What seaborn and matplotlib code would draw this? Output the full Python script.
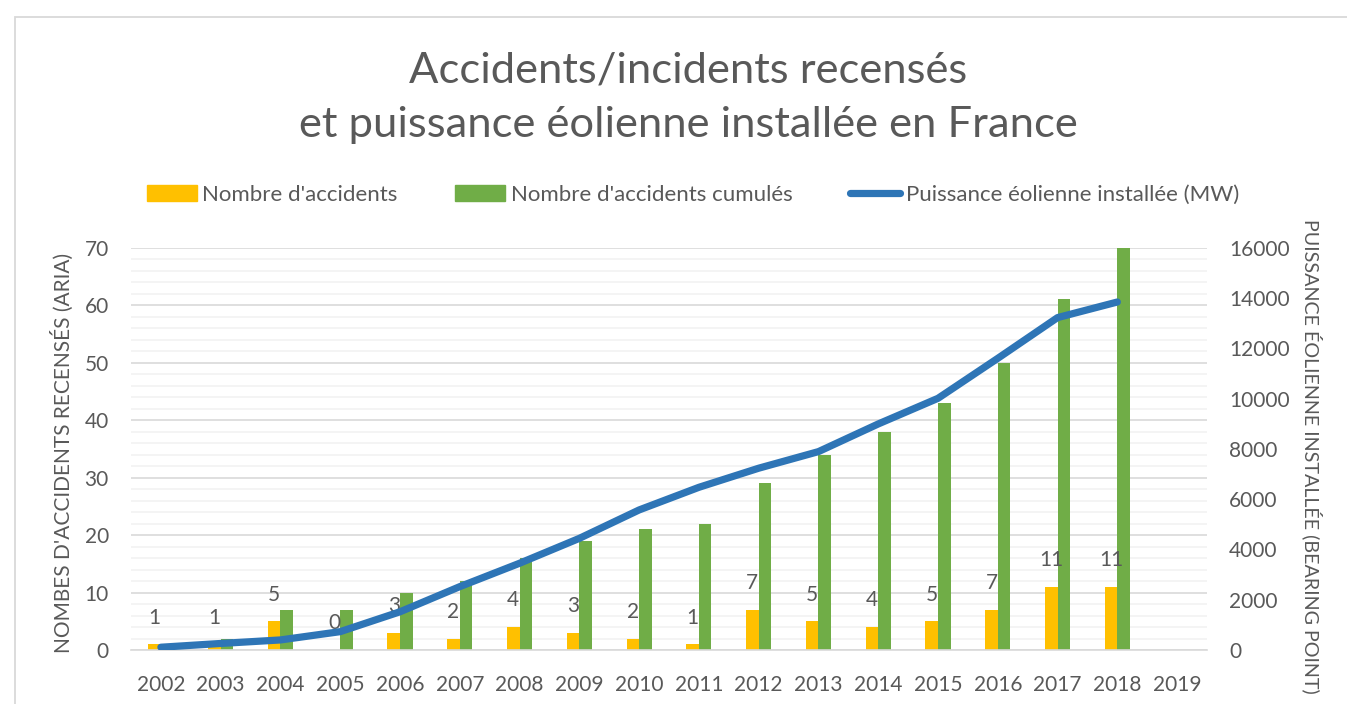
import numpy as np
import pandas as pd
import matplotlib.pyplot as plt
import seaborn as sns
from matplotlib.patches import Patch, Rectangle
from matplotlib.lines import Line2D
from matplotlib.ticker import MultipleLocator, FixedLocator

# data
years = [str(y) for y in range(2002, 2020)]
accidents = [1, 1, 5, 0, 3, 2, 4, 3, 2, 1, 7, 5, 4, 5, 7, 11, 11]
accidents_cumul = [1, 2, 7, 7, 10, 12, 16, 19, 21, 22, 29, 34, 38, 43, 50, 61, 72]
puissance_mw = [110, 260, 400, 730, 1520, 2520, 3450, 4440, 5570, 6470,
                7230, 7890, 8990, 10010, 11600, 13220, 13840]

label_acc = "Nombre d'accidents"
label_cum = "Nombre d'accidents cumulés"
label_mw = "Puissance éolienne installée (MW)"
title = "Accidents/incidents recensés\net puissance éolienne installée en France"
ylabel_left = "NOMBES D'ACCIDENTS RECENSÉS (ARIA)"
ylabel_right = "PUISSANCE ÉOLIENNE INSTALLÉE (BEARING POINT)"

YELLOW = '#FFC000'
GREEN = '#70AD47'
BLUE = '#2E75B6'
GREY_TXT = '#595959'
GRID_MAJ = '#D9D9D9'
GRID_MIN = '#F2F2F2'

sns.set_style("white")
plt.rcParams['font.family'] = ['Lato', 'DejaVu Sans']


def build_frame():
    n = len(accidents)
    df = pd.DataFrame({
        'annee': years[:n] * 2,
        'valeur': accidents + accidents_cumul,
        'serie': [label_acc] * n + [label_cum] * n,
    })
    return df


def plot_chart(df):
    fig = plt.figure(figsize=(13.47, 7.04), dpi=100)
    ax = fig.add_axes([131 / 1347, 1 - 650 / 704, 1076 / 1347, 402.3 / 704])

    sns.barplot(data=df, x='annee', y='valeur', hue='serie', order=years,
                hue_order=[label_acc, label_cum], palette=[YELLOW, GREEN],
                width=0.42, gap=0, saturation=1, linewidth=0,
                legend=False, ax=ax)

    # value labels above the yearly bars
    ax.bar_label(ax.containers[0], labels=[str(v) for v in accidents],
                 padding=12, fontsize=15, color=GREY_TXT)

    ax.set_ylim(0, 70)
    ax.yaxis.set_major_locator(MultipleLocator(10))
    ax.yaxis.set_minor_locator(MultipleLocator(2))
    ax.grid(which='major', axis='y', color=GRID_MAJ, lw=1.2)
    ax.grid(which='minor', axis='y', color=GRID_MIN, lw=1.2)
    ax.set_axisbelow(True)

    ax.xaxis.set_minor_locator(FixedLocator(np.arange(-0.5, len(years))))
    ax.tick_params(axis='x', which='minor', length=6, width=1.2, color=GRID_MAJ, direction='out')
    ax.tick_params(axis='x', which='major', length=0, pad=18, labelsize=15, labelcolor=GREY_TXT)
    ax.tick_params(axis='y', which='both', length=0, pad=16, labelsize=15, labelcolor=GREY_TXT)

    for side in ['top', 'left', 'right']:
        ax.spines[side].set_visible(False)
    ax.spines['bottom'].set_color(GRID_MAJ)
    ax.spines['bottom'].set_linewidth(1.2)

    ax.set_xlabel('')
    ax.set_ylabel(ylabel_left, fontsize=15, color=GREY_TXT)
    ax.yaxis.set_label_coords(-0.064, 0.49)
    ax.yaxis.label.set_va('center')

    # installed power on the secondary axis
    ax2 = ax.twinx()
    sns.lineplot(x=list(range(len(puissance_mw))), y=puissance_mw, ax=ax2,
                 color=BLUE, linewidth=5.2, solid_capstyle='round',
                 solid_joinstyle='round', legend=False)
    ax2.set_ylim(0, 16000)
    ax2.yaxis.set_major_locator(MultipleLocator(2000))
    ax2.tick_params(axis='y', length=0, pad=16, labelsize=15, labelcolor=GREY_TXT)
    for side in ['top', 'left', 'right', 'bottom']:
        ax2.spines[side].set_visible(False)
    ax2.set_ylabel(ylabel_right, fontsize=14.2, color=GREY_TXT, rotation=270)
    ax2.yaxis.set_label_coords(1.0976, 0.482)
    ax2.yaxis.label.set_va('center')
    ax.set_xlim(-0.5, len(years) - 0.5)

    fig.text(688 / 1347, 1 - 97.5 / 704, title, ha='center', va='center',
             fontsize=31.3, color=GREY_TXT, fontweight='normal', linespacing=1.52)

    handles = [Patch(color=YELLOW), Patch(color=GREEN),
               Line2D([0], [0], color=BLUE, lw=5.2, solid_capstyle='round')]
    fig.legend(handles, [label_acc, label_cum, label_mw], loc='center',
               bbox_to_anchor=(693 / 1347, 1 - 195 / 704), ncol=3, frameon=False,
               handlelength=2.25, handletextpad=0.25, columnspacing=2.6,
               fontsize=16, labelcolor=GREY_TXT)

    # chart frame
    fig.patches.append(Rectangle((15 / 1347, -0.1), 2, 1.1 - 17 / 704, fill=False,
                                 edgecolor=GRID_MAJ, lw=1.3, transform=fig.transFigure))

    fig.savefig('out.png', dpi=100)


if __name__ == "__main__":
    df = build_frame()
    plot_chart(df)
